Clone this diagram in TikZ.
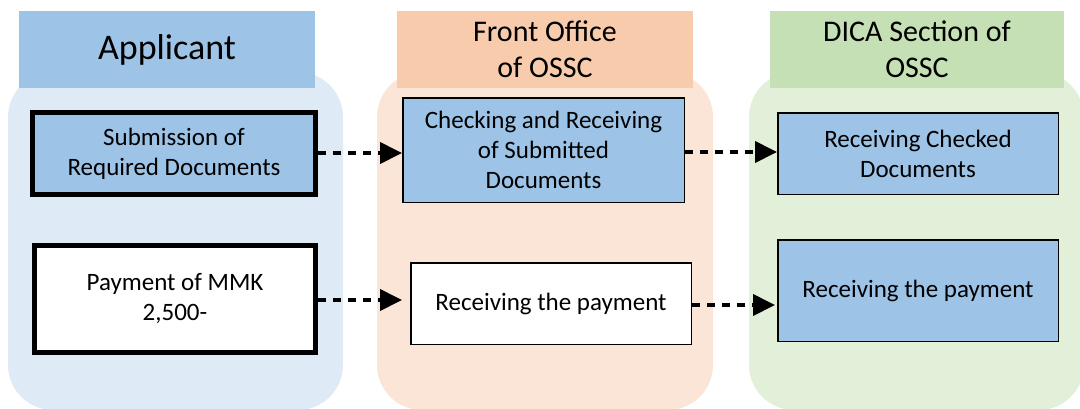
\documentclass[tikz,border=0pt]{standalone}
\usepackage{fontspec}
\setmainfont{Carlito}
\usetikzlibrary{arrows.meta}
\definecolor{hblue}{HTML}{9DC3E6}
\definecolor{bgblue}{HTML}{DEEBF7}
\definecolor{horange}{HTML}{F8CBAD}
\definecolor{bgorange}{HTML}{FBE5D6}
\definecolor{hgreen}{HTML}{C5E0B4}
\definecolor{bggreen}{HTML}{E2F0D9}
\tikzset{
  lane/.style={rounded corners=45pt},
  header/.style={inner sep=0pt, align=center, minimum height=77pt, text=black},
  stepbox/.style={draw=black, line width=1.5pt, inner sep=0pt, align=center,
    font=\fontsize{25}{30}\selectfont},
  thickbox/.style={stepbox, line width=5pt},
  flow/.style={line width=4pt, dash pattern=on 8pt off 7pt,
    -{Triangle[length=22pt,width=21pt]}},
}
\begin{document}
\begin{tikzpicture}[x=1pt,y=-1pt]
\useasboundingbox (0,0) rectangle (1080,408);
% lanes
\fill[bgblue, lane] (8,72) rectangle (343,410);
\fill[bgorange, lane] (377,72) rectangle (713,410);
\fill[bggreen, lane] (749,72) rectangle (1084,410);
% headers
\node[header, fill=hblue, minimum width=296pt, font=\fontsize{36}{42}\selectfont] (happ) at (167,49.5) {Applicant};
\node[header, fill=horange, minimum width=296pt, font=\fontsize{30}{36}\selectfont] (hfront) at (545,49.5) {Front Office\\of OSSC};
\node[header, fill=hgreen, minimum width=294pt, font=\fontsize{30}{36}\selectfont] (hdica) at (917,49.5) {DICA Section of\\OSSC};
% boxes
\node[thickbox, fill=hblue, minimum width=283pt, minimum height=82pt] (sub) at (174,153.5) {Submission of\\Required Documents};
\node[thickbox, fill=white, minimum width=281pt, minimum height=107pt] (pay) at (175,299) {Payment of MMK\\2,500-};
\node[stepbox, fill=hblue, minimum width=281.5pt, minimum height=104.5pt] (check) at (543.5,150) {Checking and Receiving\\of Submitted\\Documents};
\node[stepbox, fill=white, minimum width=280.5pt, minimum height=81.5pt] (midpay) at (551,303.5) {Receiving the payment};
\node[stepbox, fill=hblue, minimum width=280.5pt, minimum height=81.5pt] (recchk) at (918,153.5) {Receiving Checked\\Documents};
\node[stepbox, fill=hblue, minimum width=280.5pt, minimum height=101.5pt] (rightpay) at (918,290.5) {Receiving the payment};
% connectors
\draw[flow] ([yshift=0.5pt]sub.east) -- ([yshift=0.5pt]sub.east -| check.west);
\draw[flow] ([yshift=1.5pt]recchk.west -| check.east) -- ([yshift=1.5pt]recchk.west);
\draw[flow, shorten >=8pt] ([yshift=-1pt]pay.east) -- ([yshift=-1pt]pay.east -| midpay.west);
\draw[flow, shorten >=2pt] ([yshift=-1.5pt]midpay.east) -- ([yshift=-1.5pt]midpay.east -| rightpay.west);
\end{tikzpicture}
\end{document}
